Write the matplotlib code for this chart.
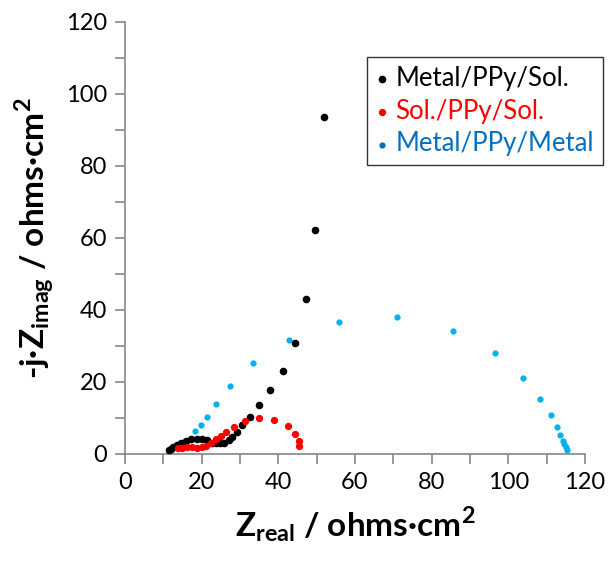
import matplotlib.pyplot as plt
from matplotlib.ticker import MultipleLocator

# Metal/PPy/Sol.
black_x = [52.0, 49.5, 47.2, 44.3, 41.3, 37.8, 34.9, 32.6, 30.6, 29.1, 27.9, 27.0, 25.8,
           24.8, 23.8, 22.6, 21.5, 20.1, 18.7, 17.3, 15.9, 14.7, 13.5, 12.6, 11.9, 11.4]
black_y = [93.5, 62.2, 43.0, 30.9, 23.1, 17.9, 13.6, 10.4, 8.0, 6.0, 4.8, 3.9, 3.1,
           3.0, 3.0, 3.1, 3.9, 4.1, 4.1, 4.1, 3.7, 3.1, 2.6, 2.0, 1.5, 1.0]

# Sol./PPy/Sol.
red_x = [45.5, 45.3, 44.3, 42.5, 38.9, 34.9, 31.2, 28.5, 26.4, 25.0, 23.8, 22.4,
         21.1, 20.0, 18.7, 17.4, 16.1, 14.8, 13.9]
red_y = [2.1, 3.6, 5.6, 7.9, 9.4, 10.1, 9.2, 7.6, 6.1, 5.0, 4.1, 3.1,
         2.2, 1.9, 1.7, 1.9, 2.0, 1.8, 1.7]

# Metal/PPy/Metal
blue_x = [115.3, 115.0, 114.6, 114.3, 113.6, 112.6, 111.0, 108.2, 103.7, 96.4, 85.5,
          70.9, 55.9, 42.7, 33.5, 27.3, 23.7, 21.3, 19.7, 18.3]
blue_y = [1.1, 2.0, 2.8, 3.5, 5.4, 7.6, 10.8, 15.4, 21.1, 28.0, 34.2,
          38.0, 36.7, 31.7, 25.2, 18.9, 13.9, 10.4, 8.0, 6.4]

labels = ['Metal/PPy/Sol.', 'Sol./PPy/Sol.', 'Metal/PPy/Metal']

plt.rcParams['font.family'] = ['Lato', 'DejaVu Sans']
plt.rcParams['mathtext.fontset'] = 'custom'
plt.rcParams['mathtext.rm'] = 'Lato'
plt.rcParams['mathtext.bf'] = 'Lato:bold'

fig = plt.figure(figsize=(6.08, 5.61), dpi=100)
ax = fig.add_axes([125 / 608, 1 - 454 / 561, 460 / 608, 432 / 561])

ax.scatter(black_x, black_y, s=20, color='black', label=labels[0], zorder=3)
ax.scatter(red_x, red_y, s=18, color='#FF0000', label=labels[1], zorder=3)
ax.scatter(blue_x, blue_y, s=12, color='#00B0F0', label=labels[2], zorder=2)

ax.set_xlim(0, 120)
ax.set_ylim(0, 120)
ax.xaxis.set_major_locator(MultipleLocator(20))
ax.yaxis.set_major_locator(MultipleLocator(20))
ax.xaxis.set_minor_locator(MultipleLocator(10))
ax.yaxis.set_minor_locator(MultipleLocator(10))
for s in ['top', 'right']:
    ax.spines[s].set_visible(False)
for s in ['left', 'bottom']:
    ax.spines[s].set_color('#868686')
    ax.spines[s].set_linewidth(1.2)
ax.tick_params(which='both', direction='out', length=7, width=1.2, color='#868686',
               labelsize=17, pad=6)

ax.set_xlabel(r'$\mathbf{Z_{real}}$ / ohms·cm$^\mathbf{2}$', fontsize=24,
              fontweight='bold', labelpad=8)
ax.set_ylabel(r'-j·$\mathbf{Z_{imag}}$ / ohms·cm$^\mathbf{2}$', fontsize=24,
              fontweight='bold', labelpad=6)

leg = fig.legend(loc='upper left', bbox_to_anchor=(367 / 608, 1 - 57 / 561),
                 borderaxespad=0, fontsize=18.5, frameon=True, fancybox=False,
                 edgecolor='black', handlelength=0.5, handletextpad=0.25,
                 borderpad=0.35, labelspacing=0.3, markerscale=1.0, scatterpoints=1)
leg.get_frame().set_linewidth(1.0)
text_colors = ['black', '#FF0000', '#0070C0']
for t, c, h in zip(leg.get_texts(), text_colors, leg.legend_handles):
    t.set_color(c)
    h.set_color(c)

fig.savefig('out.png', dpi=100)
